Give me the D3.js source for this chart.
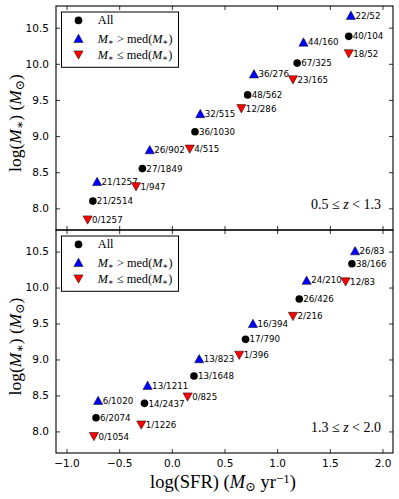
<!DOCTYPE html>
<html>
<head>
<meta charset="utf-8">
<script src="https://cdn.jsdelivr.net/npm/d3@7"></script>
<style>
  body { margin: 0; background: #fff; }
  svg { display: block; }
</style>
</head>
<body>
<div id="graph"></div>
<script>
// [log SFR, log M*, label]
const topAll = [[-0.75, 8.10, '21/2514'], [-0.28, 8.55, '27/1849'], [0.22, 9.06, '36/1030'], [0.72, 9.57, '48/562'], [1.19, 10.01, '67/325'], [1.68, 10.38, '40/104']];
const topHigh = [[-0.71, 8.37, '21/1257'], [-0.21, 8.81, '26/902'], [0.27, 9.31, '32/515'], [0.78, 9.86, '36/276'], [1.25, 10.30, '44/160'], [1.70, 10.67, '22/52']];
const topLow = [[-0.80, 7.84, '0/1257'], [-0.34, 8.30, '1/947'], [0.17, 8.82, '4/515'], [0.66, 9.38, '12/286'], [1.15, 9.78, '23/165'], [1.68, 10.14, '18/52']];

const botAll = [[-0.72, 8.19, '6/2074'], [-0.26, 8.39, '14/2437'], [0.21, 8.77, '13/1648'], [0.70, 9.28, '17/790'], [1.21, 9.84, '26/426'], [1.71, 10.33, '38/166']];
const botHigh = [[-0.70, 8.43, '6/1020'], [-0.23, 8.64, '13/1211'], [0.26, 9.01, '13/823'], [0.77, 9.50, '16/394'], [1.28, 10.10, '24/210'], [1.74, 10.51, '26/83']];
const botLow = [[-0.74, 7.93, '0/1054'], [-0.29, 8.09, '1/1226'], [0.15, 8.48, '0/825'], [0.64, 9.06, '1/396'], [1.15, 9.60, '2/216'], [1.65, 10.08, '12/83']];

const xTicks = [-1.0, -0.5, 0.0, 0.5, 1.0, 1.5, 2.0];
const yTicks = [8.0, 8.5, 9.0, 9.5, 10.0, 10.5];
const zLabels = [['0.5', '1.3'], ['1.3', '2.0']];

const w = 399;
const h = 499;
const left = 56;
const right = 393;
const panels = [[6, 230], [230, 453]];
const serif = "'Liberation Serif', 'DejaVu Serif', serif";
const sans = "'DejaVu Sans', sans-serif";

const svg = d3.select('#graph')
    .append('svg')
    .attr('width', w)
    .attr('height', h)
    .style('background', '#fff');

const xScale = d3.scaleLinear()
    .domain([-1.1, 2.1])
    .range([left, right]);

const upTri = 'M0,-4.3L4.6,4L-4.6,4Z';
const downTri = 'M0,4.3L4.6,-4L-4.6,-4Z';

// writes pieces of mathtext as tspans: [text, style] where style is '', 'i', 'sub', 'sup'
const mathText = (sel, parts) => {
    parts.forEach(p => {
        const t = sel.append('tspan').text(p[0]);
        if (p[1] === 'i') t.style('font-style', 'italic');
        if (p[1] === 'sub') t.attr('baseline-shift', '-25%').style('font-size', '70%');
        if (p[1] === 'sup') t.attr('baseline-shift', '40%').style('font-size', '70%');
    });
}

const drawPanel = (idx, all, high, low) => {
    const top = panels[idx][0];
    const bottom = panels[idx][1];
    const yScale = d3.scaleLinear()
        .domain([7.7, 10.8])
        .range([bottom, top]);

    const g = svg.append('g');

    // ticks, pointing inward on all four sides
    const xb = g.append('g')
        .attr('transform', 'translate(0,' + bottom + ')')
        .call(d3.axisBottom(xScale).tickValues(xTicks).tickSize(-4).tickPadding(7).tickFormat(d3.format('.1f')));
    const xt = g.append('g')
        .attr('transform', 'translate(0,' + top + ')')
        .call(d3.axisTop(xScale).tickValues(xTicks).tickSize(-4).tickFormat(''));
    const yl = g.append('g')
        .attr('transform', 'translate(' + left + ',0)')
        .call(d3.axisLeft(yScale).tickValues(yTicks).tickSize(-4).tickPadding(7).tickFormat(d3.format('.1f')));
    const yr = g.append('g')
        .attr('transform', 'translate(' + right + ',0)')
        .call(d3.axisRight(yScale).tickValues(yTicks).tickSize(-4).tickFormat(''));
    if (idx === 0) xb.selectAll('text').remove();
    [xb, xt, yl, yr].forEach(a => {
        a.select('.domain').remove();
        a.selectAll('line').attr('stroke', '#000').attr('stroke-width', 0.8);
        a.selectAll('text')
            .attr('fill', '#000')
            .style('font-family', sans)
            .style('font-size', '10.5px');
    });

    g.append('rect')
        .attr('x', left)
        .attr('y', top)
        .attr('width', right - left)
        .attr('height', bottom - top)
        .attr('fill', 'none')
        .attr('stroke', '#000')
        .attr('stroke-width', 1.1);

    const series = [[all, 'circle', '#000', 4], [high, upTri, '#0000ff', 4.5], [low, downTri, '#ff0000', 4.5]];
    series.forEach(s => {
        const pts = g.append('g').selectAll('g')
            .data(s[0])
            .enter()
            .append('g')
            .attr('transform', d => 'translate(' + xScale(d[0]) + ',' + yScale(d[1]) + ')');
        if (s[1] === 'circle') {
            pts.append('circle').attr('r', 3.8).attr('fill', s[2]);
        } else {
            pts.append('path').attr('d', s[1]).attr('fill', s[2]).attr('stroke', '#000').attr('stroke-width', 0.5);
        }
        pts.append('text')
            .attr('x', s[3])
            .attr('dy', '0.36em')
            .style('font-family', sans)
            .style('font-size', '8.7px')
            .text(d => d[2]);
    });

    // legend
    const lg = g.append('g').attr('transform', 'translate(61.5,' + (top + 6) + ')');
    lg.append('rect')
        .attr('width', 117)
        .attr('height', 55.3)
        .attr('fill', '#fff')
        .attr('stroke', '#000')
        .attr('stroke-width', 1);
    const rows = [8.4, 26.5, 42.9];
    lg.append('circle').attr('cx', 17).attr('cy', rows[0]).attr('r', 3.8).attr('fill', '#000');
    lg.append('path').attr('d', upTri).attr('transform', 'translate(17,' + rows[1] + ')').attr('fill', '#0000ff').attr('stroke', '#000').attr('stroke-width', 0.5);
    lg.append('path').attr('d', downTri).attr('transform', 'translate(17,' + rows[2] + ')').attr('fill', '#ff0000').attr('stroke', '#000').attr('stroke-width', 0.5);
    const legTexts = [
        [['All', '']],
        [['M', 'i'], ['∗', 'sub'], [' > med(', ''], ['M', 'i'], ['∗', 'sub'], [')', '']],
        [['M', 'i'], ['∗', 'sub'], [' ≤ med(', ''], ['M', 'i'], ['∗', 'sub'], [')', '']]
    ];
    legTexts.forEach((parts, i) => {
        const t = lg.append('text')
            .attr('x', 36.3)
            .attr('y', rows[i] + 4)
            .style('font-family', serif)
            .style('font-size', '12.3px');
        mathText(t, parts);
    });

    // redshift range
    const zt = g.append('text')
        .attr('x', 381)
        .attr('y', bottom - 21.5)
        .attr('text-anchor', 'end')
        .style('font-family', serif)
        .style('font-size', '14px');
    mathText(zt, [[zLabels[idx][0] + ' ≤ ', ''], ['z', 'i'], [' < ' + zLabels[idx][1], '']]);

    // y label
    const yt = g.append('text')
        .attr('transform', 'translate(21,' + ((top + bottom) / 2 + 5) + ') rotate(-90)')
        .attr('text-anchor', 'middle')
        .style('font-family', serif)
        .style('font-size', '17.5px');
    mathText(yt, [['log(', ''], ['M', 'i'], ['∗', 'sub'], [')  (', ''], ['M', 'i'], ['⊙', 'sub'], [')', '']]);
}

drawPanel(0, topAll, topHigh, topLow);
drawPanel(1, botAll, botHigh, botLow);

const xl = svg.append('text')
    .attr('x', 223)
    .attr('y', 488)
    .attr('text-anchor', 'middle')
    .style('font-family', serif)
    .style('font-size', '18.5px');
mathText(xl, [['log(SFR)  (', ''], ['M', 'i'], ['⊙', 'sub'], [' yr', ''], ['−1', 'sup'], [')', '']]);
</script>
</body>
</html>
